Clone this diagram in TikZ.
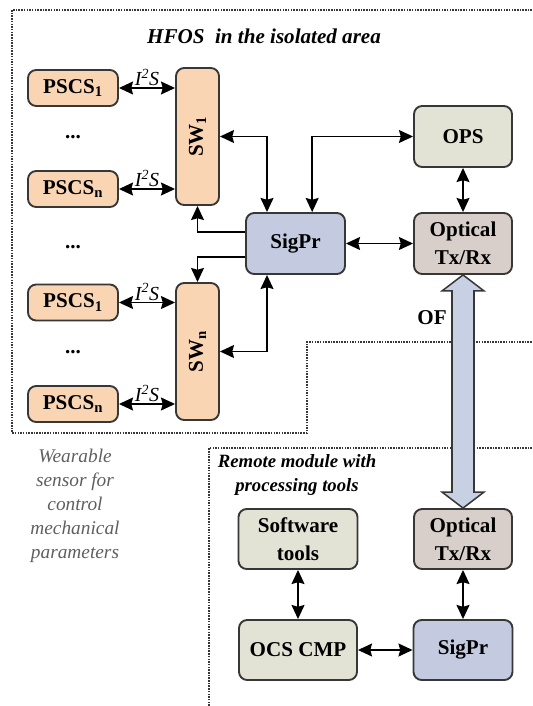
\documentclass[tikz,border=0pt]{standalone}
\usepackage{fontspec}
\setmainfont{Liberation Serif}
\usetikzlibrary{arrows.meta,calc}
\definecolor{peach}{RGB}{250, 213, 180}
\definecolor{sigblue}{RGB}{196, 203, 225}
\definecolor{palegreen}{RGB}{227, 227, 213}
\definecolor{taupe}{RGB}{216, 207, 203}
\definecolor{ofblue}{RGB}{200, 208, 228}
\definecolor{framegray}{RGB}{55, 55, 55}
\definecolor{notegray}{RGB}{95, 95, 95}

\begin{document}
\begin{tikzpicture}[x=0.03cm, y=-0.03cm,
		bloc/.style={draw=framegray, line width=1.6pt, rounded corners=7pt, align=center, inner sep=0pt, font=\fontsize{18}{24}\selectfont\bfseries},
		capteur/.style={bloc, fill=peach, minimum width=2.7cm, minimum height=1.08cm},
		commut/.style={bloc, fill=peach, minimum width=1.29cm, minimum height=4.11cm},
		traite/.style={bloc, fill=sigblue, minimum width=2.97cm, minimum height=1.83cm},
		alim/.style={bloc, fill=palegreen, minimum width=2.94cm, minimum height=1.83cm},
		emet/.style={bloc, fill=taupe, minimum width=2.94cm, minimum height=1.83cm},
		lien/.style={{Stealth[length=12pt,width=11pt,inset=1.5pt]}-{Stealth[length=12pt,width=11pt,inset=1.5pt]}, line width=1.6pt},
		lienun/.style={-{Stealth[length=12pt,width=11pt,inset=1.5pt]}, line width=1.6pt},
		iis/.style={above, font=\fontsize{17}{18}\selectfont\itshape, inner sep=1pt},
		points/.style={font=\fontsize{18}{20}\selectfont\bfseries},
		cadre/.style={densely dotted, line width=1.3pt, framegray}]
	
	\useasboundingbox (0,0) rectangle (532,706);
	
	% ZONE 1 : HFOS
	\draw[cadre] (532,10) -- (12,10) -- (12,433) -- (307,433) -- (307,342) -- (532,342);
	\node[font=\fontsize{18}{20}\selectfont\bfseries\itshape] (titre) at (264,36) {HFOS\ \ in the isolated area};
	
	% CAPTEURS ET COMMUTATEURS
	\node[capteur] (pa1) at (73,88) {PSCS\textsubscript{1}};
	\node[points] (da) at (73,137) {...};
	\node[capteur] (pan) at (73,189) {PSCS\textsubscript{n}};
	\node[commut] (sw1) at (197.5,136.5) {\rotatebox{90}{SW\textsubscript{1}}};
	\node[points] (dm) at (73,247) {...};
	\node[capteur] (pb1) at (73,302.5) {PSCS\textsubscript{1}};
	\node[points] (db) at (73,352) {...};
	\node[capteur] (pbn) at (73,404) {PSCS\textsubscript{n}};
	\node[commut] (swn) at (197.5,351.5) {\rotatebox{90}{SW\textsubscript{n}}};
	
	% TRAITEMENT ET LIAISON OPTIQUE
	\node[traite] (sig) at (295.5,243.5) {SigPr};
	\node[alim] (ops) at (463,136.5) {OPS};
	\node[emet] (opt) at (463,243.5) {Optical\\Tx/Rx};
	
	% FLECHES I2S
	\draw[lien] (pa1.east) -- node[iis] {I\textsuperscript{2}S} (pa1.east -| sw1.west);
	\draw[lien] (pan.east) -- node[iis] {I\textsuperscript{2}S} (pan.east -| sw1.west);
	\draw[lien] (pb1.east) -- node[iis] {I\textsuperscript{2}S} (pb1.east -| swn.west);
	\draw[lien] (pbn.east) -- node[iis] {I\textsuperscript{2}S} (pbn.east -| swn.west);
	
	% FLECHES SIGPR
	\draw[lien] (sw1.east) -| ([xshift=-0.855cm] sig.north);
	\draw[lien] ([xshift=0.5cm] sig.north) |- (ops.west);
	\draw[lien] (ops.south) -- (opt.north);
	\draw[lienun] ([yshift=0.345cm] sig.west) -| (sw1.south);
	\draw[lien] (sig.east) -- (opt.west);
	\draw[lienun] ([yshift=-0.4cm] sig.west) -| (swn.north);
	\draw[lien] (swn.east) -| ([xshift=-0.855cm] sig.south);
	
	% ZONE 2 : MODULE DISTANT
	\draw[cadre] (532,448) -- (209,448) -- (209,706);
	\node[font=\fontsize{16}{20.5}\selectfont\bfseries\itshape, align=center] (titrem) at (297,475) {Remote module with\\processing tools};
	\node[font=\fontsize{16.5}{20.5}\selectfont\itshape, text=notegray, align=center] (note) at (75,506) {Wearable\\sensor for\\control\\mechanical\\parameters};
	
	\node[alim, minimum width=3.57cm, minimum height=1.8cm] (soft) at (298,539) {Software\\tools};
	\node[emet, minimum height=1.8cm] (opt2) at (463,539) {Optical\\Tx/Rx};
	\node[alim, minimum width=3.54cm, minimum height=1.8cm] (ocs) at (298,650) {OCS CMP};
	\node[traite, minimum height=1.8cm] (sig2) at (463,650) {SigPr};
	
	\draw[lien] (soft.south) -- (ocs.north);
	\draw[lien] (opt2.south) -- (sig2.north);
	\draw[lien] (ocs.east) -- (sig2.west);
	
	% FIBRE OPTIQUE
	\draw[fill=ofblue, draw=framegray, line width=1.3pt, line join=miter]
		(opt.south) -- ++(21,16) -- ++(-10,0) -- ($(opt2.north)+(11,-16)$) -- ++(10,0) -- (opt2.north)
		-- ++(-21,-16) -- ++(10,0) -- ($(opt.south)+(-11,16)$) -- ++(-10,0) -- cycle;
	\node[font=\fontsize{18}{20}\selectfont\bfseries] (of) at (432,318) {OF};
	
\end{tikzpicture}
\end{document}
